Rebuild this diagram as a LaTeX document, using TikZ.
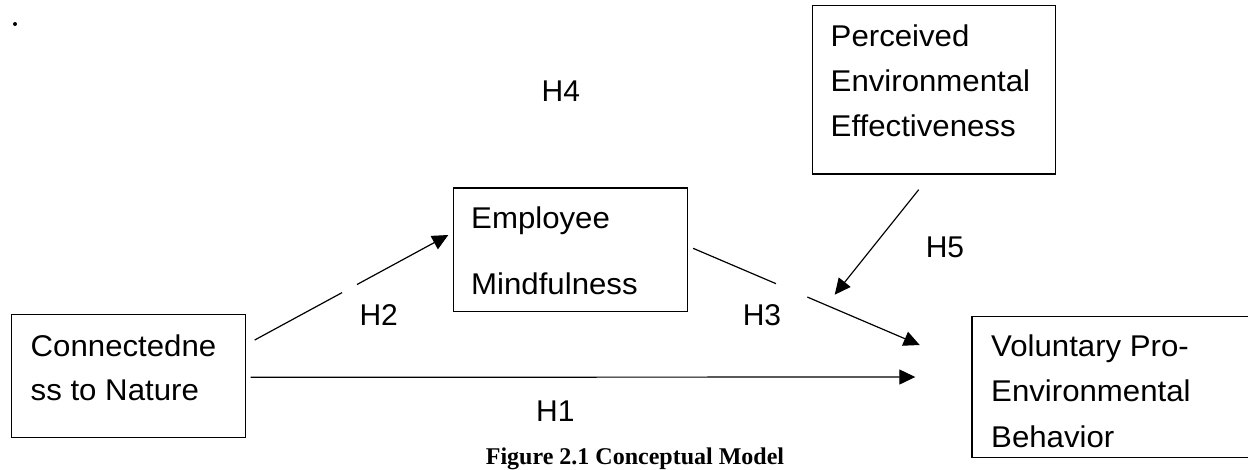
\documentclass[tikz,border=0pt]{standalone}
\usepackage{fontspec}
\setmainfont{Liberation Sans}
\newfontfamily\boxfont{Liberation Sans}[FakeStretch=1.04]
\newfontfamily\capfont{Liberation Serif}
\usetikzlibrary{arrows.meta,calc}
\begin{document}
\begin{tikzpicture}[x=1pt,y=-1pt,
  box/.style={draw, line width=1.4pt, inner sep=0pt, anchor=north west},
  lbl/.style={font=\boxfont\fontsize{30}{#1}\selectfont, inner sep=0pt, align=left, anchor=north west},
  hyp/.style={font=\fontsize{30}{36}\selectfont, inner sep=0pt, anchor=base west},
  arr/.style={line width=1.2pt, -{Triangle[length=16pt,width=15pt]}},
  gapmark/.style={circle, fill=white, inner sep=0pt, minimum size=#1}]
\clip (0,0) rectangle (1248,469);
\fill[white] (0,0) rectangle (1248,469);

% dot
\node[circle, fill=black, inner sep=0pt, minimum size=4pt] (dot) at (15,24) {};

% boxes
\node[box, minimum width=233.7pt, minimum height=122.7pt] (cn) at (11,314) {};
\node[box, minimum width=234pt, minimum height=123.4pt] (em) at (452.7,187.3) {};
\node[box, minimum width=243pt, minimum height=168.3pt] (pe) at (811.7,5) {};
\node[box, minimum width=290pt, minimum height=140.7pt] (vo) at (971.3,316) {};

% box texts
\node[lbl=44] (cnt) at (30.5,334.5) {Connectedne\\ss to Nature};
\node[lbl=66] (emt) at (471,206.8) {Employee\\Mindfulness};
\node[lbl=45] (pet) at (830.5,24.5) {Perceived\\Environmental\\Effectiveness};
\node[lbl=45.5] (vot) at (991,334.5) {Voluntary Pro-\\Environmental\\Behavior};

% connectors
\draw[arr] ($(cn.north east)+(8.6,26)$) -- node[gapmark=17pt, pos=0.49]{} ($(em.north west)+(-4.4,47.7)$);
\draw[arr] ($(em.north east)+(5,61)$) -- node[gapmark=34pt, pos=0.435]{} ($(vo.north west)+(-51.6,29)$);
\draw[arr] ($(cn.north east)+(4.6,63.3)$) -- ($(vo.north west)+(-56,61)$);
\draw[arr] ($(pe.south west)+(107,15)$) -- ($(pe.south west)+(23,120)$);

% hypothesis labels
\node[hyp] (h4) at (541.5,101.5) {H4};
\node[hyp] (h2) at (359.3,325) {H2};
\node[hyp] (h3) at (742.6,325) {H3};
\node[hyp] (h1) at (536,421.7) {H1};
\node[hyp] (h5) at (925.6,257) {H5};

% caption
\node[font=\capfont\bfseries\fontsize{24}{28}\selectfont, inner sep=0pt, anchor=base] (cap) at (635,464) {Figure 2.1 Conceptual Model};
\end{tikzpicture}
\end{document}
